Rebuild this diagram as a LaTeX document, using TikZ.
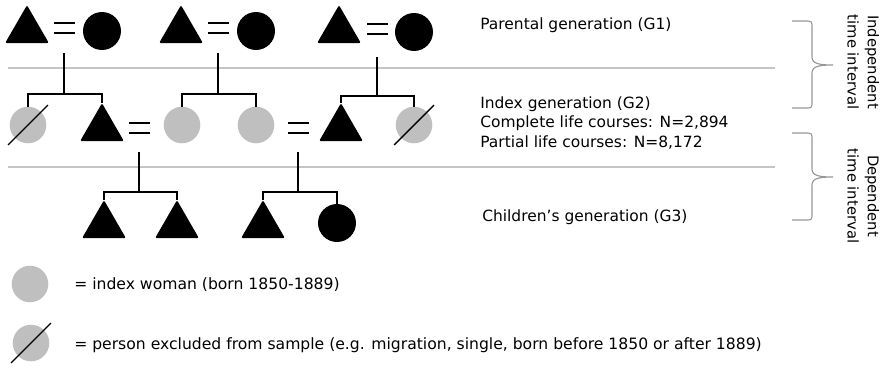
\documentclass[tikz,border=0pt]{standalone}
\usepackage{fontspec}
\setmainfont{DejaVu Sans}
\usepackage{tikz}
\usetikzlibrary{shapes.geometric}
\definecolor{IndexGray}{RGB}{191,191,191}
\definecolor{RuleGray}{RGB}{196,196,196}
\definecolor{BraceGray}{RGB}{150,150,150}

\begin{document}
\begin{tikzpicture}[x=0.025cm,y=-0.025cm,
  man/.style={regular polygon, regular polygon sides=3, fill=black, rounded corners=1pt, minimum size=36pt, inner sep=0pt, outer sep=0pt},
  woman/.style={circle, fill=black, minimum size=27pt, inner sep=0pt, outer sep=0pt},
  index/.style={circle, fill=IndexGray, minimum size=26pt, inner sep=0pt, outer sep=0pt},
  slash/.style={line width=1pt, shorten <=-7pt, shorten >=-7pt},
  tie/.style={line width=1.2pt},
  rule/.style={RuleGray, line width=0.9pt},
  gentext/.style={anchor=west, inner sep=0pt, align=left, font=\fontsize{11}{13.8}\selectfont},
  legtext/.style={anchor=west, inner sep=0pt, font=\fontsize{11.1}{13}\selectfont},
  interval/.style={rotate=-90, inner sep=0pt, font=\fontsize{10.5}{13}\selectfont},
  bracket/.style={BraceGray, line width=0.8pt}]
\useasboundingbox (0,0) rectangle (882,369);

% Generation borders
\draw[rule] (8,68) -- (775,68);
\draw[rule] (8,167) -- (775,167);

% Parental generation
\node[man] (p1) at (27,30.5) {};
\node[woman] (p2) at (102,31) {};
\node[man] (p3) at (181,30.5) {};
\node[woman] (p4) at (256,31) {};
\node[man] (p5) at (339,30.5) {};
\node[woman] (p6) at (414,32) {};

% Index generation
\node[index] (i1) at (28,125) {};
\node[man] (i2) at (102,128.5) {};
\node[index] (i3) at (182,125) {};
\node[index] (i4) at (256,125) {};
\node[man] (i5) at (341,128.5) {};
\node[index] (i6) at (414,125) {};
\draw[slash] (i1.south west) -- (i1.north east);
\draw[slash] (i6.south west) -- (i6.north east);

% Children's generation
\node[man] (c1) at (104,225.5) {};
\node[man] (c2) at (177,225.5) {};
\node[man] (c3) at (263,225.5) {};
\node[woman] (c4) at (337,223) {};

% Marriages and sibling bars
\coordinate (m1) at (64,28);
\coordinate (m2) at (218,28);
\coordinate (m3) at (377,29);
\coordinate (m4) at (139,128);
\coordinate (m5) at (298,128);
\coordinate (b1) at (64,94);
\coordinate (b2) at (218,94);
\coordinate (b3) at (377,96);
\coordinate (b4) at (139,192);
\coordinate (b5) at (298,192);
\foreach \m in {m1,m2,m3,m4,m5}
  \draw[tie] (\m) ++(-10,-5) -- ++(21,0) (\m) ++(-10,5) -- ++(21,0);
\draw[tie] (m1) ++(0,25) -- (b1);
\draw[tie] (m2) ++(0,25) -- (b2);
\draw[tie] (m3) ++(0,28) -- (b3);
\draw[tie] (m4) ++(0,24) -- (b4);
\draw[tie] (m5) ++(0,24) -- (b5);
\draw[tie] (i1.north) |- (b1) -| (i2.north);
\draw[tie] (i3.north) |- (b2) -| (i4.north);
\draw[tie] (i5.north) |- (b3) -| (i6.north);
\draw[tie] (c1.north) |- (b4) -| (c2.north);
\draw[tie] (c3.north) |- (b5) -| (c4.north);

% Generation labels
\node[gentext] (g1) at (480,25) {Parental generation (G1)};
\node[gentext] (g2) at (480,123) {Index generation (G2)\\Complete life courses: N=2,894\\Partial life courses: N=8,172};
\node[gentext] (g3) at (482,217) {Children’s generation (G3)};

% Time intervals
\draw[bracket] (792,21) -- (805,21) .. controls (812,21) .. (812,28) -- (812,57)
  .. controls (812,64) and (820,65) .. (833,65) .. controls (820,65) and (812,66) .. (812,73)
  -- (812,101) .. controls (812,108) .. (805,108) -- (792,108);
\draw[bracket] (792,133) -- (805,133) .. controls (812,133) .. (812,140) -- (812,169)
  .. controls (812,176) and (820,177) .. (833,177) .. controls (820,177) and (812,178) .. (812,185)
  -- (812,213) .. controls (812,220) .. (805,220) -- (792,220);
\node[interval] (t1) at (872,62) {Independent};
\node[interval] (t1b) at (853,62) {time interval};
\node[interval] (t2) at (872,196) {Dependent};
\node[interval] (t2b) at (853,196) {time interval};

% Legend
\node[index] (l1) at (30,284) {};
\node[legtext] (l1t) at (74,285) {= index woman (born 1850-1889)};
\node[index] (l2) at (31,343) {};
\draw[slash] (l2.south west) -- (l2.north east);
\node[legtext] (l2t) at (74,345) {= person excluded from sample (e.g. migration, single, born before 1850 or after 1889)};

\end{tikzpicture}
\end{document}
